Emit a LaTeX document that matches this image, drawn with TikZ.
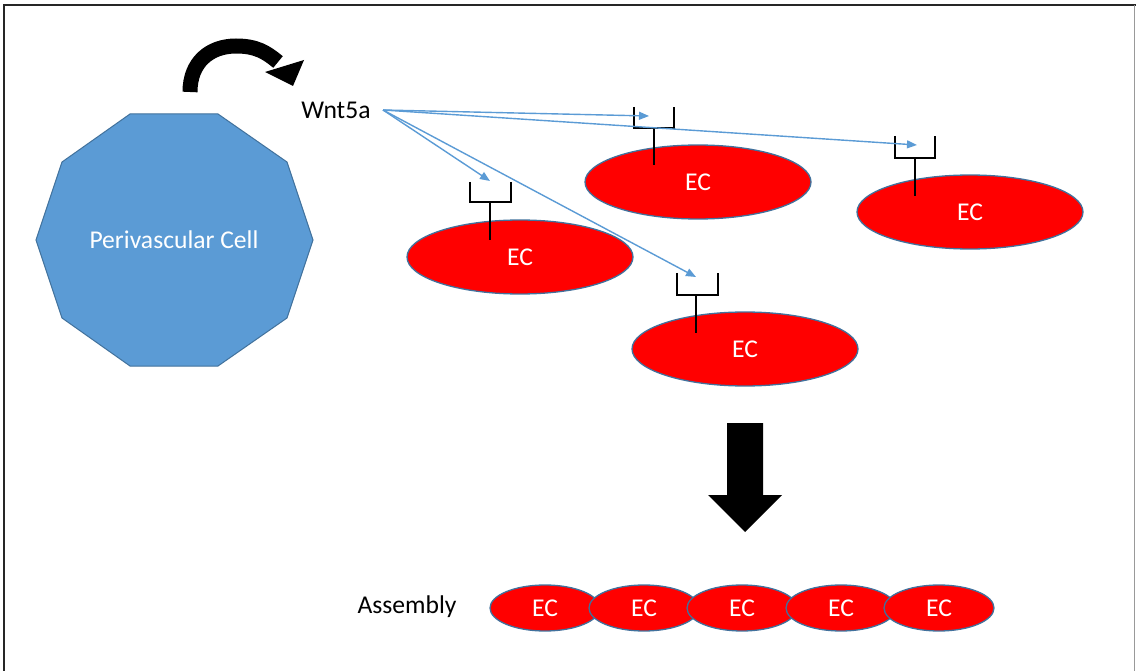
\documentclass[tikz,border=0pt]{standalone}
\usepackage{fontspec}
\setmainfont{Carlito}
\usetikzlibrary{shapes.geometric,arrows.meta}
\definecolor{officeblue}{HTML}{5B9BD5}
\definecolor{edgeblue}{HTML}{41719C}
\definecolor{ecred}{HTML}{FF0000}
\begin{document}
\begin{tikzpicture}[x=1pt,y=-1pt,
  lbl/.style={font=\fontsize{25.6}{30}\selectfont, inner sep=0pt},
  ecbig/.style={ellipse, draw=edgeblue, line width=1.3pt, fill=ecred, text=white,
     minimum width=226pt, minimum height=74pt, inner sep=0pt, font=\fontsize{25.6}{30}\selectfont},
  ecsmall/.style={ellipse, draw=edgeblue, line width=1.3pt, fill=ecred, text=white,
     minimum width=110pt, minimum height=46pt, inner sep=0pt, font=\fontsize{25.6}{30}\selectfont},
  recep/.style={draw=black, line width=1.6pt},
  sig/.style={draw=officeblue, line width=1.4pt, -{Triangle[length=10pt,width=8pt]}},
]
\useasboundingbox (0,0) rectangle (1136,671);
% frame
\draw[line width=2pt, black!85] (4,671) -- (4,5) -- (1136,5);
\draw[line width=0.8pt, black!40] (1134,5) -- (1134,671);

% perivascular cell
\filldraw[fill=officeblue, draw=edgeblue, line width=1pt]
  (313,240) -- (287,162) -- (218,114) -- (130,114) -- (62,162) -- (36,240)
  -- (62,318) -- (130,366) -- (218,366) -- (287,318) -- cycle;
\node[lbl, text=white] (pvc) at (174,240) {Perivascular Cell};

% curved secretion arrow
\draw[line width=15pt, black] (190,92) .. controls (190,62) and (210,46) .. (236,46)
   .. controls (256,46) and (266,52) .. (278,62);
\fill[black] (265,72) -- (304,60) -- (293,86) -- cycle;

% Wnt5a
\node[lbl] (wnt) at (336,110) {Wnt5a};
\coordinate (src) at (383,110);

% endothelial cells
\node[ecbig] (ec1) at (520,257) {EC};
\node[ecbig] (ec2) at (698,182) {EC};
\node[ecbig] (ec3) at (970,212) {EC};
\node[ecbig] (ec4) at (745,349) {EC};

% receptors
\draw[recep] (470,182) -- (470,202) -- (511,202) -- (511,182);
\draw[recep] (490,202) -- (490,240);
\coordinate (r1) at (490,181);
\draw[recep] (634,107) -- (634,128) -- (674,128) -- (674,107);
\draw[recep] (654,128) -- (654,165);
\coordinate (r2) at (649,116);
\draw[recep] (895,136) -- (895,158) -- (935,158) -- (935,136);
\draw[recep] (915,158) -- (915,196);
\coordinate (r3) at (917,145);
\draw[recep] (677,273) -- (677,295) -- (718,295) -- (718,273);
\draw[recep] (696,295) -- (696,333);
\coordinate (r4) at (696,277);

% signalling arrows
\draw[sig] (src) -- (r2);
\draw[sig] (src) -- (r3);
\draw[sig] (src) -- (r1);
\draw[sig] (src) -- (r4);

% big down arrow
\fill[black] (727,423) -- (763,423) -- (763,495) -- (782,495) -- (745,532)
   -- (708,495) -- (727,495) -- cycle;

% assembly
\node[lbl] (asm) at (407,607) {Assembly};
\node[ecsmall] (a1) at (545,608) {EC};
\node[ecsmall] (a2) at (644,608) {EC};
\node[ecsmall] (a3) at (742,608) {EC};
\node[ecsmall] (a4) at (841,608) {EC};
\node[ecsmall] (a5) at (939,608) {EC};
\end{tikzpicture}
\end{document}
